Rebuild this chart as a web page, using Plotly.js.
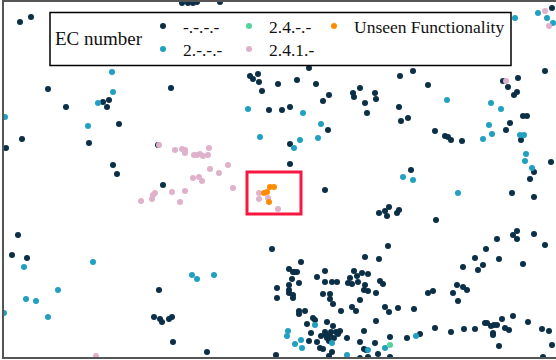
<!DOCTYPE html>
<html>
<head>
<meta charset="utf-8">
<script src="https://cdn.plot.ly/plotly-3.0.1.min.js"></script>
<style>html,body{margin:0;padding:0;background:#fff;}#chart{width:556px;height:360px;}</style>
</head>
<body>
<div id="chart"></div>
<script>
// Embedding coordinates (arbitrary units, y grows downward)
const seriesNames = ["-.-.-.-", "2.-.-.-", "2.4.-.-", "2.4.1.-", "Unseen Functionality"];

const darkX = [20,31,48,66,103,109,107,171,250,253,258,259,262,269,278,182,188,193,197,220,
  297,316,323,329,353,354,360,365,375,376,400,413,309,428,399,282,290,367,408,503,508,518,517,514,545,552,
  119,22,89,6,113,117,163,18,158,
  12,27,272,159,154,160,162,169,172,173,207,
  328,290,290,401,435,445,448,451,462,510,506,521,523,527,551,534,530,512,534,411,325,379,385,389,387,397,399,436,
  301,289,293,295,297,325,317,292,299,289,325,332,337,277,289,289,293,293,323,330,277,330,333,341,299,299,305,313,315,327,307,333,311,321,325,326,330,331,336,340,338,334,327,309,317,329,320,323,332,329,276,
  388,365,379,354,362,368,350,357,348,352,358,365,364,368,376,380,383,360,352,356,385,389,398,414,376,364,347,360,375,390,407,420,364,366,378,360,390,368,
  497,513,517,517,534,545,486,523,475,499,463,483,478,457,463,467,453,458,428,433,475,464,451,435,543,
  485,487,491,494,497,493,493,502,513,505,509,528,499,542,549,552];
const darkY = [22,17,89,107,102,100,107,88,76,79,74,82,91,110,84,3,3,3,2,2,
  80,84,101,95,93,97,88,103,93,99,76,71,68,85,107,110,107,113,118,81,87,78,92,95,71,8,
  124,139,143,148,165,174,185,235,145,
  255,258,249,290,317,319,322,319,317,342,352,
  130,144,164,121,131,136,137,140,141,123,130,140,116,116,162,172,179,193,197,170,190,213,211,207,216,213,210,220,
  262,269,272,272,272,271,277,279,283,285,282,282,282,288,290,293,295,298,294,294,298,299,304,311,311,314,311,318,320,322,324,326,333,336,332,335,336,332,332,331,334,338,338,341,342,341,348,349,352,356,355,
  246,257,259,271,273,274,278,276,283,284,282,285,290,291,293,281,284,300,307,311,307,312,308,309,321,331,338,342,343,337,338,334,349,350,354,358,357,357,
  239,235,231,239,234,245,249,264,258,259,267,265,270,285,287,290,293,301,293,291,329,329,332,328,357,
  323,323,326,325,325,333,335,319,316,328,330,322,346,329,331,345];

const cyanX = [112,113,98,248,5,88,260,303,515,538,547,553,447,491,501,321,300,318,294,489,492,483,520,524,526,525,532,403,413,458,
  24,93,58,26,36,48,4,192,197,214,288,287,301,295,302,315,332,347,416,385,368];
const cyanY = [72,92,103,109,117,126,137,113,18,13,18,23,100,103,109,124,140,138,148,125,134,139,135,135,154,161,168,177,180,193,
  267,262,290,299,301,317,313,275,279,275,331,336,340,344,348,325,343,355,336,348,350];

const greenX = [390];
const greenY = [345];

const pinkX = [545,549,506,159,175,182,185,185,194,197,200,203,208,209,228,210,219,193,199,202,233,185,172,155,153,152,141,180,259,259,268,278,96];
const pinkY = [11,26,81,145,150,149,150,153,155,155,154,156,155,148,165,169,173,178,177,181,188,191,192,193,195,199,201,202,193,199,198,209,356];

const orangeX = [270,274,264,267,269];
const orangeY = [187,187,193,192,202];

const colors = ["#0b2f46", "#22a0c2", "#52d49c", "#e0b1cb", "#ff8c00"];
const highlight = {x0: 247, x1: 301, y0: 172, y1: 214};

const mk = (x, y, i, legend) => ({
  type: "scatter", mode: "markers", x: x, y: y, name: seriesNames[i],
  legend: legend, hoverinfo: "skip",
  marker: {size: 6, color: colors[i], line: {width: 0}}
});

const data = [
  mk(darkX, darkY, 0, "legend"),
  mk(cyanX, cyanY, 1, "legend2"),
  mk(greenX, greenY, 2, "legend"),
  mk(pinkX, pinkY, 3, "legend2"),
  mk(orangeX, orangeY, 4, "legend3")
];

const serif = "'Liberation Serif', 'Times New Roman', Times, serif";
const legendFont = {family: serif, size: 17.5, color: "#111"};
const W = 552, H = 355, L = 4, T = 2;
const px = v => (v - L) / W;
const py = v => 1 - (v - T) / H;

const legendBase = {orientation: "h", xanchor: "left", yanchor: "top",
  bgcolor: "rgba(0,0,0,0)", borderwidth: 0, font: legendFont, traceorder: "normal", tracegroupgap: 0};

const layout = {
  width: 556, height: 360,
  margin: {l: 4, r: 0, t: 2, b: 3, pad: 0},
  paper_bgcolor: "#fff", plot_bgcolor: "#fff",
  showlegend: true,
  font: {family: serif},
  xaxis: {range: [4, 556], showgrid: false, zeroline: false, showticklabels: false, ticks: "",
          showline: true, mirror: true, linecolor: "#555", linewidth: 2, fixedrange: true},
  yaxis: {range: [357, 2], showgrid: false, zeroline: false, showticklabels: false, ticks: "",
          showline: true, linecolor: "#555", linewidth: 2, fixedrange: true},
  legend: Object.assign({}, legendBase, {x: px(143), y: py(8), entrywidth: 41, entrywidthmode: "pixels"}),
  legend2: Object.assign({}, legendBase, {x: px(143), y: py(31), entrywidth: 41, entrywidthmode: "pixels"}),
  legend3: Object.assign({}, legendBase, {x: px(314), y: py(8)}),
  shapes: [
    {type: "rect", xref: "paper", yref: "paper", x0: px(50), x1: px(511), y0: py(65.5), y1: py(12.5),
     fillcolor: "#fff", line: {color: "#000", width: 1.5}, layer: "above"},
    {type: "rect", xref: "x", yref: "y", x0: highlight.x0, x1: highlight.x1, y0: highlight.y0, y1: highlight.y1,
     fillcolor: "rgba(0,0,0,0)", line: {color: "#f8173e", width: 3}, layer: "above"}
  ],
  annotations: [
    {text: "EC number", xref: "paper", yref: "paper", x: px(53), y: py(38.5), xanchor: "left", yanchor: "middle",
     showarrow: false, font: {family: serif, size: 19, color: "#111"}}
  ]
};

Plotly.newPlot("chart", data, layout, {staticPlot: true, displayModeBar: false});
</script>
</body>
</html>
